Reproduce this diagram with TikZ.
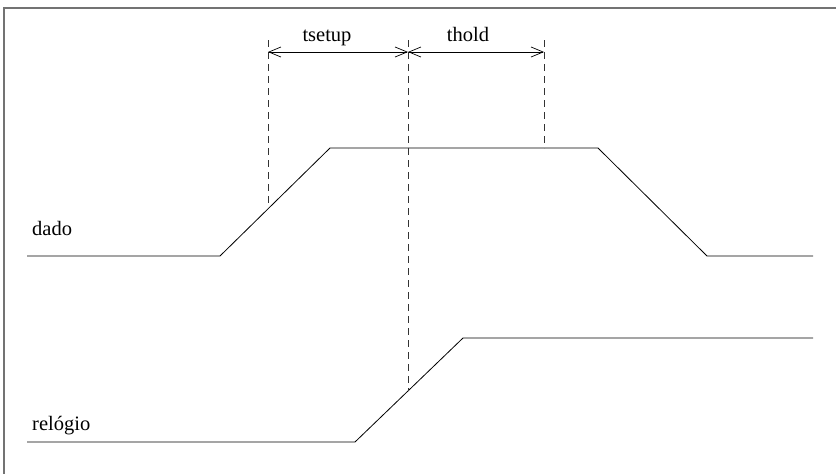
\documentclass[tikz,border=0pt]{standalone}
\usepackage{fontspec}
\setmainfont{Liberation Serif}
\usetikzlibrary{arrows.meta}
\begin{document}
\begin{tikzpicture}[x=1pt,y=-1pt,
  wave/.style={line width=0.8pt},
  guide/.style={line width=0.7pt, dash pattern=on 7pt off 5pt, black!80},
  span/.style={line width=0.7pt, {Straight Barb[length=12pt,width=10pt]}-{Straight Barb[length=12pt,width=10pt]}},
  lbl/.style={font=\fontsize{20.5}{24}\selectfont, inner sep=0pt, anchor=base west},
  toplbl/.style={font=\fontsize{20.5}{24}\selectfont, inner sep=0pt, anchor=base}]
\useasboundingbox (0,0) rectangle (836,474);
% frame edges
\draw[line width=2pt, black!55] (4,474) -- (4,8) -- (836,8);

% data waveform
\coordinate (d0) at (27,256);
\coordinate (d1) at (220,256);
\coordinate (d2) at (330,148);
\coordinate (d3) at (598,148);
\coordinate (d4) at (707,256);
\coordinate (d5) at (813,256);
\draw[wave] (d0) -- (d1) -- (d2) -- (d3) -- (d4) -- (d5);

% clock waveform
\coordinate (c0) at (27,442);
\coordinate (c1) at (355,442);
\coordinate (c2) at (463,338);
\coordinate (c3) at (813,338);
\draw[wave] (c0) -- (c1) -- (c2) -- (c3);

% timing guides
\coordinate (g1t) at (268,40);
\coordinate (g1b) at (268,205);
\coordinate (g2t) at (408,40);
\coordinate (g2b) at (408,391);
\coordinate (g3t) at (544,40);
\coordinate (g3b) at (544,148);
\draw[guide] (g1t) -- (g1b);
\draw[guide] (g2t) -- (g2b);
\draw[guide] (g3t) -- (g3b);

% setup / hold spans
\coordinate (a1) at (268,52);
\coordinate (a2) at (408,52);
\coordinate (a3) at (544,52);
\draw[span] (a1) -- (a2);
\draw[span] (a2) -- (a3);

\node[toplbl] (tsetup) at (327,41) {tsetup};
\node[toplbl] (thold) at (468,41) {thold};
\node[lbl] (dado) at (32,235) {dado};
\node[lbl] (relogio) at (32,430) {relógio};
\end{tikzpicture}
\end{document}
